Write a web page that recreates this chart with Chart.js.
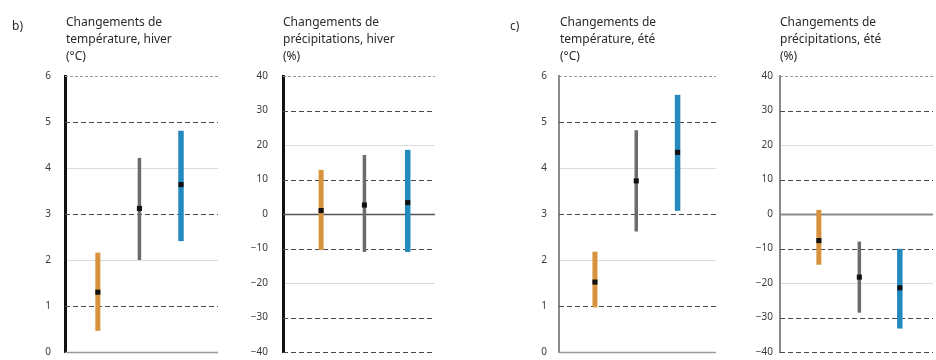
<!DOCTYPE html>
<html><head><meta charset="utf-8">
<script src="https://cdn.jsdelivr.net/npm/chart.js@4/dist/chart.umd.min.js"></script>
<style>
html,body{margin:0;padding:0;background:#fff;}
#wrap{position:relative;width:936px;height:360px;overflow:hidden;font-family:"Noto Sans","Liberation Sans",sans-serif;}
.box{position:absolute;top:0;height:360px;}
.box canvas{display:block;}
.ttl{position:absolute;top:13px;font-size:12px;line-height:17px;color:#2a2a2a;white-space:nowrap;z-index:2;}
.lbl{position:absolute;top:17px;font-size:12px;color:#2a2a2a;z-index:2;}
</style></head><body>
<div id="wrap">
  <div class="lbl" style="left:12px">b)</div>
  <div class="lbl" style="left:510px">c)</div>
  <div class="ttl" id="t0" style="left:66px"></div>
  <div class="ttl" id="t1" style="left:283px"></div>
  <div class="ttl" id="t2" style="left:560px"></div>
  <div class="ttl" id="t3" style="left:780px"></div>
  <div class="box" style="left:0px;width:225px"><canvas id="c0" width="225" height="360"></canvas></div>
  <div class="box" style="left:225px;width:215px"><canvas id="c1" width="215" height="360"></canvas></div>
  <div class="box" style="left:500px;width:220px"><canvas id="c2" width="220" height="360"></canvas></div>
  <div class="box" style="left:725px;width:211px"><canvas id="c3" width="211" height="360"></canvas></div>
</div>
<script>
// ---------- DATA ----------
const scenarios = ['Scénario 1', 'Scénario 2', 'Scénario 3'];

const tempWinterLow    = [0.46, 2.0, 2.41];
const tempWinterHigh   = [2.16, 4.22, 4.81];
const tempWinterMedian = [1.30, 3.12, 3.64];

const precWinterLow    = [-10.4, -11.0, -11.0];
const precWinterHigh   = [12.8, 17.1, 18.6];
const precWinterMedian = [1.0, 2.6, 3.3];

const tempSummerLow    = [0.97, 2.62, 3.07];
const tempSummerHigh   = [2.18, 4.82, 5.59];
const tempSummerMedian = [1.52, 3.72, 4.34];

const precSummerLow    = [-14.7, -28.6, -33.2];
const precSummerHigh   = [1.2, -8.0, -10.1];
const precSummerMedian = [-7.7, -18.3, -21.4];

const tempTickLabels = ['0', '1', '2', '3', '4', '5', '6'];
const precTickLabels = ['−40', '−30', '−20', '−10', '0', '10', '20', '30', '40'];

const titleTempWinter = ['Changements de', 'température, hiver', '(°C)'];
const titlePrecWinter = ['Changements de', 'précipitations, hiver', '(%)'];
const titleTempSummer = ['Changements de', 'température, été', '(°C)'];
const titlePrecSummer = ['Changements de', 'précipitations, été', '(%)'];

// ---------- STYLE ----------
const barColors = ['#d6923c', '#6c6c6c', '#2489bd'];
const barWidths = [5, 3.5, 5.5];
const FONT = '"Noto Sans","Liberation Sans",sans-serif';

const dashedGrid = {
  id: 'dashedGrid',
  beforeDatasetsDraw(chart, args, opts) {
    const {ctx, chartArea: a} = chart;
    const y = chart.scales.y;
    y.ticks.forEach((t) => {
      const st = opts.styleFor(t.value, y.min, y.max);
      if (!st) return;
      const py = Math.round(y.getPixelForValue(t.value)) + 0.5;
      ctx.save();
      ctx.strokeStyle = st.color;
      ctx.lineWidth = st.width;
      ctx.setLineDash(st.dash || []);
      ctx.beginPath();
      ctx.moveTo(a.left, py);
      ctx.lineTo(a.right, py);
      ctx.stroke();
      ctx.restore();
    });
  }
};

function tempStyle(v, min, max) {
  if (v === max) return {color: '#9a9a9a', width: 1, dash: [3, 2]};
  if (v === min) return {color: '#9a9a9a', width: 1.5};
  if (Math.abs(v % 2) === 1) return {color: '#4a4a4a', width: 1.2, dash: [5, 3]};
  return null;
}
function precStyleWinter(v, min, max) {
  if (v === max) return {color: '#9a9a9a', width: 1, dash: [3, 2]};
  if (v === 0) return {color: '#555', width: 1.6};
  if (v === min || Math.abs(v % 20) === 10) return {color: '#4a4a4a', width: 1.2, dash: [5, 3]};
  return null;
}
function precStyleSummer(v, min, max) {
  if (v === max) return {color: '#9a9a9a', width: 1, dash: [3, 2]};
  if (v === 0) return {color: '#8a8a8a', width: 2};
  if (v === min || Math.abs(v % 20) === 10) return {color: '#4a4a4a', width: 1.2, dash: [5, 3]};
  return null;
}

function lightGrid(step, min, max) {
  return (ctx) => {
    const v = ctx.tick ? ctx.tick.value : null;
    if (v === null || v === min || v === max || v === 0) return 'rgba(0,0,0,0)';
    return (Math.abs(v / step) % 2 === 0) ? '#dcdcdc' : 'rgba(0,0,0,0)';
  };
}

function makeChart(id, low, high, median, cfg) {
  const datasets = scenarios.map((s, i) => ({
    type: 'line',
    label: s,
    data: [{x: i + 1, y: low[i]}, {x: i + 1, y: high[i]}],
    borderColor: barColors[i],
    borderWidth: barWidths[i],
    borderCapStyle: 'butt',
    pointRadius: 0,
    showLine: true,
    order: 2
  }));
  datasets.push({
    type: 'scatter',
    label: 'médiane',
    data: scenarios.map((s, i) => ({x: i + 1, y: median[i]})),
    pointStyle: 'rect',
    pointRadius: 3.6,
    backgroundColor: '#111',
    borderColor: '#111',
    borderWidth: 0,
    order: 1
  });
  return new Chart(document.getElementById(id), {
    type: 'scatter',
    data: {datasets},
    plugins: [dashedGrid],
    options: {
      responsive: false,
      animation: false,
      events: [],
      layout: {autoPadding: false, padding: {top: 76, bottom: 8, left: 0, right: cfg.padRight}},
      plugins: {legend: {display: false}, tooltip: {enabled: false}, dashedGrid: {styleFor: cfg.styleFor}},
      scales: {
        x: {type: 'linear', display: false, min: cfg.xMin, max: cfg.xMax},
        y: {
          type: 'linear', min: cfg.yMin, max: cfg.yMax,
          afterFit: (s) => { s.width = cfg.axisW; s.paddingTop = 0; s.paddingBottom = 0; },
          ticks: {
            stepSize: cfg.step, padding: cfg.tickPad, color: '#3a3a3a',
            font: {size: 10, family: FONT},
            callback: (v, i) => cfg.labels[i]
          },
          grid: {drawTicks: false, lineWidth: 1, color: lightGrid(cfg.step, cfg.yMin, cfg.yMax)},
          border: {display: true, color: cfg.axisColor, width: cfg.axisWidth}
        }
      }
    }
  });
}

function setTitle(id, lines) {
  document.getElementById(id).innerHTML = lines.join('<br>');
}
setTitle('t0', titleTempWinter);
setTitle('t1', titlePrecWinter);
setTitle('t2', titleTempSummer);
setTitle('t3', titlePrecSummer);

makeChart('c0', tempWinterLow, tempWinterHigh, tempWinterMedian, {
  yMin: 0, yMax: 6, step: 1, labels: tempTickLabels, styleFor: tempStyle,
  axisW: 65, padRight: 7, tickPad: 14, xMin: 0.21, xMax: 3.89,
  axisColor: '#111', axisWidth: 3
});
makeChart('c1', precWinterLow, precWinterHigh, precWinterMedian, {
  yMin: -40, yMax: 40, step: 10, labels: precTickLabels, styleFor: precStyleWinter,
  axisW: 58, padRight: 5, tickPad: 15, xMin: 0.12, xMax: 3.63,
  axisColor: '#111', axisWidth: 3
});
makeChart('c2', tempSummerLow, tempSummerHigh, tempSummerMedian, {
  yMin: 0, yMax: 6, step: 1, labels: tempTickLabels, styleFor: tempStyle,
  axisW: 59, padRight: 4, tickPad: 12, xMin: 0.13, xMax: 3.93,
  axisColor: '#8a8a8a', axisWidth: 2
});
makeChart('c3', precSummerLow, precSummerHigh, precSummerMedian, {
  yMin: -40, yMax: 40, step: 10, labels: precTickLabels, styleFor: precStyleSummer,
  axisW: 55, padRight: 3, tickPad: 7, xMin: 0.04, xMax: 3.82,
  axisColor: '#8a8a8a', axisWidth: 2
});
</script>
</body></html>
